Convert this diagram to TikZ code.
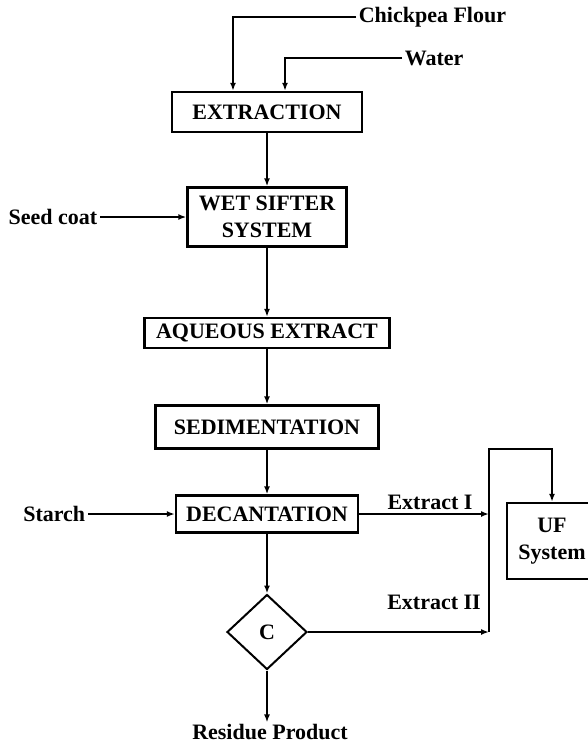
\documentclass[tikz,border=0pt]{standalone}
\usepackage{fontspec}
\setmainfont{Liberation Serif}
\usetikzlibrary{shapes.geometric,arrows.meta}
\begin{document}
\begin{tikzpicture}[x=1pt,y=1pt,line width=1.6pt,>={Latex[length=8pt,width=6pt]},
every node/.style={font=\fontsize{22}{27}\selectfont\bfseries},
procbox/.style={draw, line width=2.4pt, inner sep=0pt, align=center},
lbl/.style={inner sep=2pt}]
\useasboundingbox (0,0) rectangle (587,-747);
\node[procbox, minimum width=190pt, minimum height=40pt] (ext) at (267,-112){EXTRACTION};
\node[procbox, minimum width=159pt, minimum height=59pt] (wss) at (267,-217){WET SIFTER\\SYSTEM};
\node[procbox, minimum width=245pt, minimum height=30pt] (aq) at (267,-333){AQUEOUS EXTRACT};
\node[procbox, minimum width=223pt, minimum height=43pt] (sed) at (267,-427){SEDIMENTATION};
\node[procbox, minimum width=182pt, minimum height=37pt] (dec) at (267,-514){DECANTATION};
\node[diamond, draw, line width=2pt, inner sep=0pt, minimum width=80pt, minimum height=75pt] (c) at (267,-632){C};
\node[procbox, minimum width=90pt, minimum height=76pt] (uf) at (552,-541){UF\\System};
\node[lbl, anchor=west] (flour) at (356,-17){Chickpea Flour};
\node[lbl, anchor=west] (water) at (402,-58){Water};
\node[lbl, anchor=east] (seed) at (100,-217){Seed coat};
\node[lbl, anchor=east] (starch) at (88,-514){Starch};
\node[lbl] (lbl1) at (430,-502){Extract I};
\node[lbl] (lbl2) at (434,-602){Extract II};
\node[lbl, inner sep=1pt] (res) at (270,-732){Residue Product};
\coordinate (e1) at (489,-514);
\coordinate (e2) at (489,-632);
\coordinate (up) at (489,-449);
\draw[->](flour.west) -| ([xshift=-34pt]ext.north);
\draw[->](water.west) -| ([xshift=18pt]ext.north);
\draw[->](ext) -- (wss);
\draw[->](seed) -- (wss);
\draw[->](wss) -- (aq);
\draw[->](aq) -- (sed);
\draw[->](sed) -- (dec);
\draw[->](starch) -- (dec);
\draw[->](dec) -- (c);
\draw[->](dec) -- (e1);
\draw[->](c) -- (e2);
\draw[->](e2) -- (up) -| (uf);
\draw[->](c.south) -- (c.south |- res.north);
\end{tikzpicture}
\end{document}
